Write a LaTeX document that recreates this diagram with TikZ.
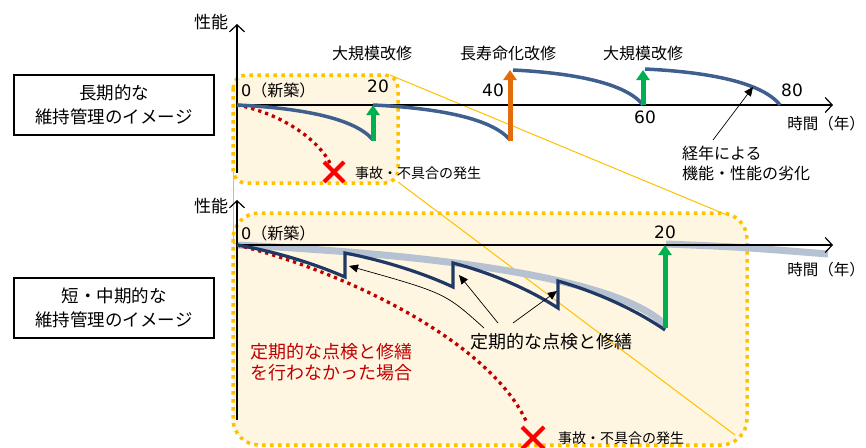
\documentclass[tikz,border=0pt]{standalone}
\usepackage{fontspec}
\setmainfont{Noto Sans CJK JP}
\newfontfamily\digitfont{DejaVu Sans}
\usetikzlibrary{arrows.meta}
\definecolor{dotor}{RGB}{255,192,0}
\definecolor{fillor}{RGB}{255,246,226}
\definecolor{curveblue}{RGB}{63,95,143}
\definecolor{sawblue}{RGB}{31,56,100}
\definecolor{bandgray}{RGB}{182,194,210}
\definecolor{grn}{RGB}{0,176,80}
\definecolor{orng}{RGB}{228,108,10}
\definecolor{darkred}{RGB}{192,0,0}
\tikzset{
  zoomrect/.style={draw=dotor, fill=fillor, line width=3.5pt, dash pattern=on 3.5pt off 4.5pt},
  zoomline/.style={draw=dotor, line width=1pt},
  axis/.style={draw=black, line width=1.2pt, -{Straight Barb[length=7pt,width=15pt,line width=1.2pt]}},
  axisplain/.style={draw=black, line width=1.2pt},
  agecurve/.style={draw=curveblue, line width=3.5pt},
  sawcurve/.style={draw=sawblue, line width=3.2pt, line join=miter},
  band/.style={draw=bandgray, line width=7pt},
  reddot/.style={draw=darkred, line width=3.3pt, dash pattern=on 3.3pt off 4pt},
  uparrow/.style={line width=5pt, -{Triangle[length=10pt,width=13pt]}},
  note/.style={draw=black, line width=0.7pt, -{Triangle[length=9pt,width=8pt]}},
  lbl/.style={font=\fontsize{16}{19}\selectfont, inner sep=0pt},
  timelbl/.style={font=\fontsize{15.5}{19}\selectfont, inner sep=0pt},
  num/.style={font=\digitfont\fontsize{17}{19}\selectfont, inner sep=0pt},
  small/.style={font=\fontsize{14}{16}\selectfont, inner sep=0pt},
  catbox/.style={draw=black, line width=1.2pt, minimum width=200pt, minimum height=60pt, align=center, inner sep=0pt, font=\fontsize{17.5}{24}\selectfont},
  xmark/.style={draw=red, line width=4pt}
}
\begin{document}
\begin{tikzpicture}[x=1pt,y=-1pt]
\useasboundingbox (0,0) rectangle (866,447);

% zoom frames
\draw[zoomrect, rounded corners=13pt] (233,75) rectangle (398,183);
\draw[zoomrect, rounded corners=26pt] (233,213) rectangle (747,445);

% zoom connector lines
\coordinate (zt1) at (390,75);  \coordinate (zb1) at (727,215);
\coordinate (zt2) at (398,182); \coordinate (zb2) at (735,435);
\coordinate (zt3) at (233,172); \coordinate (zm3) at (233,243); \coordinate (zb3) at (237,243);
\draw[zoomline] (zt1) -- (zb1);
\draw[zoomline] (zt2) -- (zb2);
\draw[zoomline] (zt3) -- (zm3) -- (zb3);

% ---------- top chart ----------
\coordinate (o1) at (237,105);
\coordinate (y1t) at (237,24);
\coordinate (y1b) at (237,173);
\coordinate (x1e) at (833,105);
\draw[axisplain] (o1) -- (y1b);
\draw[axis] (o1) -- (y1t);
\draw[axis] (o1) -- (x1e);

\draw[reddot] (237,105) .. controls (275,112) and (315,135) .. (330,163);

\draw[agecurve] (237,105) .. controls (300,108) and (355,118) .. (373,140);
\draw[agecurve] (373,105) .. controls (436,108) and (492,118) .. (510,140);
\draw[agecurve] (513,70) .. controls (573,73) and (626,83) .. (643,105);
\draw[agecurve] (645,69) .. controls (707,72) and (762,82) .. (780,105);

\coordinate (g1a) at (373,141); \coordinate (g1b) at (373,105);
\coordinate (oa) at (510,141);  \coordinate (ob) at (510,70);
\coordinate (g2a) at (643,105); \coordinate (g2b) at (643,70);
\draw[uparrow, grn] (g1a) -- (g1b);
\draw[uparrow, orng] (oa) -- (ob);
\draw[uparrow, grn] (g2a) -- (g2b);

\draw[xmark] (324,162) -- (344,182) (344,162) -- (324,182);

\node[lbl] (perf1) at (211,22) {\fontsize{17}{19}\selectfont 性能};
\node[lbl] (r1) at (372,53) {大規模改修};
\node[lbl] (r2) at (508,53) {長寿命化改修};
\node[lbl] (r3) at (643,53) {大規模改修};
\node[lbl, anchor=west] (new1) at (241,90) {{\digitfont 0}（新築）};
\node[num] (n20) at (378,86) {20};
\node[num] (n40) at (493,90) {40};
\node[num] (n60) at (645,117) {60};
\node[num] (n80) at (792,90) {80};
\node[timelbl, anchor=east] (time1) at (865,124) {時間（年）};
\node[small, anchor=west] (acc1) at (355,173) {事故・不具合の発生};
\node[lbl, anchor=north west, align=left, font=\fontsize{16}{20}\selectfont] (age) at (682,146) {経年による\\機能・性能の劣化};
\coordinate (ageFrom) at (713,140);
\coordinate (ageTo) at (753,87);
\draw[note] (ageFrom) -- (ageTo);

\node[catbox] (boxLong) at (114,105) {長期的な\\維持管理のイメージ};

% ---------- bottom chart ----------
\coordinate (o2) at (237,245);
\coordinate (y2t) at (237,200);
\coordinate (y2b) at (237,420);
\coordinate (x2e) at (833,245);

\draw[band] (237,245) .. controls (450,255) and (620,280) .. (665,325);
\draw[band] (666,244) .. controls (740,247) .. (828,254);

\draw[axisplain] (o2) -- (y2b);
\draw[axis] (o2) -- (y2t);
\draw[axis] (o2) -- (x2e);

\draw[reddot] (237,245) .. controls (340,270) and (490,340) .. (527,423);

\draw[sawcurve] (237,245) .. controls (273,251) and (313,263) .. (345,277)
  -- (345,253) .. controls (381,260) and (421,272) .. (453,287)
  -- (453,263) .. controls (488,272) and (527,288) .. (558,308)
  -- (558,281) .. controls (593,291) and (633,308) .. (665,330);

\coordinate (g3a) at (665,328); \coordinate (g3b) at (665,245);
\draw[uparrow, grn] (g3a) -- (g3b);

\draw[xmark] (522,427) -- (544,449) (544,427) -- (522,449);

\node[lbl] (perf2) at (211,206) {\fontsize{17}{19}\selectfont 性能};
\node[lbl, anchor=west] (new2) at (241,233) {{\digitfont 0}（新築）};
\node[num] (m20) at (665,232) {20};
\node[timelbl, anchor=east] (time2) at (865,270) {時間（年）};
\node[small, anchor=west] (acc2) at (558,438) {事故・不具合の発生};
\node[inner sep=0pt, anchor=west, align=left, text=darkred, font=\fontsize{18}{21}\selectfont] (noMaint) at (250,362) {定期的な点検と修繕\\を行わなかった場合};
\node[inner sep=0pt, font=\fontsize{18}{21}\selectfont] (regular) at (551,342) {定期的な点検と修繕};

\coordinate (a1s) at (484,328); \coordinate (a1e) at (349,266);
\coordinate (a2s) at (498,323); \coordinate (a2e) at (459,275);
\coordinate (a3s) at (513,323); \coordinate (a3e) at (557,291);
\draw[note] (a1s) .. controls (445,293) .. (a1e);
\draw[note] (a2s) -- (a2e);
\draw[note] (a3s) -- (a3e);

\node[catbox] (boxShort) at (114,308) {短・中期的な\\維持管理のイメージ};
\end{tikzpicture}
\end{document}
